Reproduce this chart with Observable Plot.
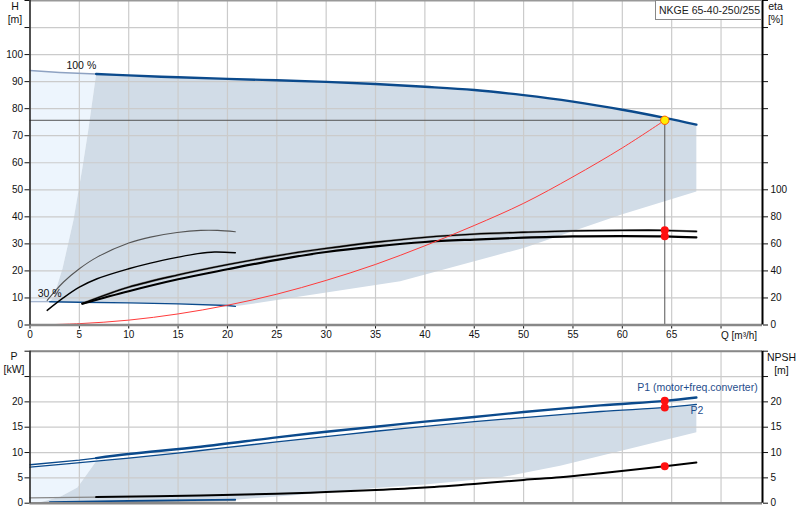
<!DOCTYPE html>
<html><head><meta charset="utf-8">
<script src="https://cdn.jsdelivr.net/npm/d3@7"></script>
<script src="https://cdn.jsdelivr.net/npm/@observablehq/plot@0.6"></script>
<style>
body{margin:0;background:#fff;font-family:"Liberation Sans",Arial,sans-serif;}
#wrap{position:relative;width:800px;height:520px;overflow:hidden;background:#fff;}
#top{position:absolute;left:0;top:0;}
#bot{position:absolute;left:0;top:345px;}
#model{position:absolute;left:655px;top:0px;width:107px;height:20px;border:1px solid #888;background:#fff;font-size:10.5px;line-height:14px;padding:2px 0 0 3px;box-sizing:border-box;color:#222;white-space:nowrap;}
</style></head><body>
<div id="wrap"><div id="top"></div><div id="bot"></div><div id="model">NKGE 65-40-250/255</div></div>
<script>
// ---------- ticks ----------
const qTicks = [0,5,10,15,20,25,30,35,40,45,50,55,60,65,70];
const hTicks = [0,10,20,30,40,50,60,70,80,90,100,110,120];
const pTicks = [0,5,10,15,20,25,30];
const qMax = 74.2;

// ---------- top panel (H) ----------
const Q100 = [0, 3, 6.7, 10, 15, 20, 25, 30, 35, 40, 45, 50, 55, 60, 64.3, 67.5];
const H100 = [94.1, 93.4, 92.8, 92.3, 91.6, 91.0, 90.5, 89.9, 89.1, 88.1, 86.9, 85.0, 82.6, 79.6, 76.6, 74.1];
const Q30 = [0, 2, 5, 10, 15, 20, 20.8];
const H30 = [8.6, 8.6, 8.4, 8.2, 7.8, 7.2, 6.9];
// left edge of shaded range (bottom -> top)
const leftQ = [2.0, 2.4, 3.3, 4.4, 5.3, 5.9, 6.7];
const leftH = [8.6, 10.4, 21, 38.7, 58, 72, 92.8];
// lower edge of shaded range (right -> left)
const lowQ = [67.5, 60, 50, 37.5];
const lowH = [49.4, 41, 28.5, 16.2];
// system curve
const sysQ = [0.5, 5, 10, 15, 20, 25, 30, 35, 40, 45, 50, 55, 60, 64.3];
const sysH = [0, 0.5, 1.8, 4.1, 7.3, 11.4, 16.5, 22.4, 29.3, 36.8, 45.0, 54.8, 65.5, 75.7];
// efficiency curves (eta %)
const eta1Q = [1.74, 3.4, 5, 6.8, 10, 12.2, 14.9, 17.3, 19, 20.8];
const eta1 = [18.2, 31.8, 41.6, 50.2, 60.6, 65.0, 68.4, 70.0, 70.0, 69.0];
const eta2Q = [1.74, 3.4, 5, 6.8, 10, 12.2, 14.9, 17, 18.7, 20.8];
const eta2 = [10.8, 20.2, 28.0, 34.2, 41.6, 45.8, 50.0, 52.8, 54.0, 53.4];
const etaQ = [5.3, 10, 15, 20, 25, 30, 35, 40, 45, 50, 55, 60, 64.3, 67.5];
const etaUp = [15.8, 28.0, 37.0, 44.6, 51.2, 56.6, 61.2, 64.8, 67.2, 68.6, 69.6, 70.0, 70.0, 69.2];
const etaLo = [15.8, 25.0, 33.8, 41.2, 48.2, 54.0, 58.2, 61.4, 63.2, 64.6, 65.6, 65.8, 65.6, 64.8];
const dutyQ = 64.3, dutyH = 75.7;
const dutyEta = [70.0, 65.6];

// ---------- bottom panel (P / NPSH) ----------
const P1Q = [0, 5, 6.7, 10, 17.3, 25, 30, 35, 40, 45, 50, 57.8, 64.3, 67.5];
const P1 = [7.6, 8.5, 8.9, 9.7, 11.15, 13.0, 14.1, 15.1, 16.1, 17.0, 18.0, 19.3, 20.2, 20.85];
const P2Q = [0, 6.7, 10, 17.3, 25, 35, 45, 50, 57.8, 64.3, 67.5];
const P2 = [7.1, 8.3, 8.9, 10.4, 12.1, 14.2, 16.1, 16.9, 18.1, 18.9, 19.5];
const npshQ = [0, 6.7, 17.3, 25, 30, 35, 40, 45, 50, 53.7, 57.8, 64.3, 67.5];
const npsh = [1.06, 1.2, 1.5, 1.85, 2.2, 2.6, 3.1, 3.8, 4.6, 5.1, 5.9, 7.3, 8.05];
const lowPQ = [0, 1.06, 2, 10, 20.8];
const lowP = [0.15, 0.2, 0.25, 0.45, 0.7];
const lowP2 = [0.05, 0.1, 0.15, 0.3, 0.5];
const bLeftQ = [1.06, 3.1, 4.8, 5.8, 6.7];
const bLeftP = [0.2, 1.3, 3.1, 5.8, 8.3];
const bLowQ = [67.5, 60, 53.7, 47.7, 40, 35, 27, 20.8];
const bLowP = [14.0, 10.4, 7.4, 5.1, 3.7, 3.0, 1.6, 0.7];
const dutyP = [20.2, 18.9];
const dutyNPSH = 7.3;

// ---------- helpers ----------
const pts = (qs, vs) => qs.map((q, i) => ({q, v: vs[i]}));
const c100 = pts(Q100, H100), c30 = pts(Q30, H30);
const shadeTop = [
  ...c100.filter(d => d.q >= 6.7),
  ...pts(lowQ, lowH),
  ...c30.filter(d => d.q >= 2).reverse(),
  ...pts(leftQ, leftH)
];
const lightTop = [
  ...c100.filter(d => d.q <= 6.7),
  ...pts(leftQ, leftH).reverse(),
  ...c30.filter(d => d.q <= 2).reverse()
];
const cP1 = pts(P1Q, P1), cP2 = pts(P2Q, P2), cN = pts(npshQ, npsh), cLow = pts(lowPQ, lowP);
const shadeBot = [
  ...cP2.filter(d => d.q >= 6.7),
  ...pts(bLowQ, bLowP),
  ...cLow.filter(d => d.q >= 1.06).reverse(),
  ...pts(bLeftQ, bLeftP)
];
const lightBot = [
  ...cP2.filter(d => d.q <= 6.7),
  ...pts(bLeftQ, bLeftP).reverse(),
  ...cLow.filter(d => d.q <= 1.06).reverse()
];

const font = "Liberation Sans, Arial, sans-serif";
const grid = {stroke: "#cbcbcb", strokeOpacity: 1, strokeWidth: 1.2};
const darkBlue = "#0b4a8c", lightBlue = "#8ea2c2";
const shadeCol = "#d1dce7", lightCol = "#edf5fd";

const topPlot = Plot.plot({
  width: 800, height: 345,
  marginLeft: 29.5, marginRight: 38, marginTop: 0, marginBottom: 20.5,
  x: {domain: [0, qMax]}, y: {domain: [0, 120]},
  style: {fontFamily: font, fontSize: "10px", color: "#111", background: "transparent", overflow: "visible"},
  marks: [
    Plot.line(lightTop, {x: "q", y: "v", fill: lightCol, stroke: "none"}),
    Plot.line(shadeTop, {x: "q", y: "v", fill: shadeCol, stroke: "none"}),
    Plot.gridX(qTicks, grid),
    Plot.gridY(hTicks, grid),
    // 30 % curve
    Plot.line(c30.filter(d => d.q <= 2), {x: "q", y: "v", stroke: lightBlue, strokeWidth: 1.2}),
    Plot.line(c30.filter(d => d.q >= 2), {x: "q", y: "v", stroke: darkBlue, strokeWidth: 1.4}),
    // duty lines
    Plot.ruleY([dutyH], {x1: 0, x2: dutyQ, stroke: "#555", strokeWidth: 1}),
    Plot.ruleX([dutyQ], {y1: 0, y2: dutyH, stroke: "#555", strokeWidth: 1}),
    // efficiency curves
    Plot.line(pts(eta1Q, eta1), {x: "q", y: d => d.v / 2, stroke: "#555", strokeWidth: 1.1, curve: "catmull-rom"}),
    Plot.line(pts(eta2Q, eta2), {x: "q", y: d => d.v / 2, stroke: "#000", strokeWidth: 1.4, curve: "catmull-rom"}),
    Plot.line(pts(etaQ, etaUp), {x: "q", y: d => d.v / 2, stroke: "#888", strokeWidth: 2.4, curve: "catmull-rom"}),
    Plot.line(pts(etaQ, etaUp), {x: "q", y: d => d.v / 2, stroke: "#000", strokeWidth: 1.3, curve: "catmull-rom"}),
    Plot.line(pts(etaQ, etaLo), {x: "q", y: d => d.v / 2, stroke: "#000", strokeWidth: 2.2, curve: "catmull-rom"}),
    // system curve
    Plot.line(pts(sysQ, sysH), {x: "q", y: "v", stroke: "#ff3b3b", strokeWidth: 1, curve: "catmull-rom"}),
    // 100 % curve
    Plot.line(c100.filter(d => d.q <= 6.7), {x: "q", y: "v", stroke: lightBlue, strokeWidth: 1.5}),
    Plot.line(c100.filter(d => d.q >= 6.7), {x: "q", y: "v", stroke: darkBlue, strokeWidth: 2.4, curve: "catmull-rom"}),
    // points
    Plot.dot(dutyEta, {x: () => dutyQ, y: d => d / 2, r: 4, fill: "#ff1010", stroke: "none"}),
    Plot.dot([dutyH], {x: () => dutyQ, y: d => d, r: 4.2, fill: "#ffee00", stroke: "#ff5a00", strokeWidth: 1}),
    // labels
    Plot.text([{q: 5.2, v: 96, t: "100 %"}], {x: "q", y: "v", text: "t", fontSize: 10.5, fill: "#111"}),
    Plot.text([{q: 2.0, v: 11.6, t: "30 %"}], {x: "q", y: "v", text: "t", fontSize: 10.5, fill: "#111"}),
    Plot.text([{q: 70, v: 0, t: "Q [m³/h]"}], {x: "q", y: "v", text: "t", textAnchor: "start", dy: 10.5, fontSize: 10, fill: "#111"}),
    Plot.text(["H\n[m]"], {frameAnchor: "top-left", textAnchor: "middle", lineAnchor: "top", dx: -15, dy: 1, fontSize: 10.5, lineHeight: 1.2, fill: "#111"}),
    Plot.text(["eta\n[%]"], {frameAnchor: "top-right", textAnchor: "middle", lineAnchor: "top", dx: 13, dy: 1, fontSize: 10.5, lineHeight: 1.2, fill: "#111"}),
    // axes
    Plot.axisX(qTicks, {anchor: "bottom", tickSize: 4, tickPadding: 1.5, tickFormat: d => d <= 65 ? String(d) : "", label: null}),
    Plot.axisY(hTicks, {anchor: "left", tickSize: 5, tickPadding: 2, tickFormat: d => d <= 100 ? String(d) : "", label: null}),
    Plot.axisY(hTicks, {anchor: "right", tickSize: 5, tickPadding: 3, tickFormat: d => d <= 50 ? String(d * 2) : "", label: null}),
    // frame
    Plot.ruleY([120], {stroke: "#999", strokeWidth: 2}),
    Plot.ruleY([0], {stroke: "#888", strokeWidth: 2.5}),
    Plot.ruleX([0], {stroke: "#222", strokeWidth: 1.5}),
    Plot.ruleX([qMax], {stroke: "#000", strokeWidth: 2})
  ]
});
document.getElementById("top").append(topPlot);

const botPlot = Plot.plot({
  width: 800, height: 175,
  marginLeft: 29.5, marginRight: 38, marginTop: 5.7, marginBottom: 17.3,
  x: {domain: [0, qMax], axis: null}, y: {domain: [0, 30], axis: null},
  style: {fontFamily: font, fontSize: "10px", color: "#111", background: "transparent", overflow: "visible"},
  marks: [
    Plot.line(lightBot, {x: "q", y: "v", fill: lightCol, stroke: "none"}),
    Plot.line(shadeBot, {x: "q", y: "v", fill: shadeCol, stroke: "none"}),
    Plot.gridX(qTicks, grid),
    Plot.gridY(pTicks, grid),
    // low-speed power lines
    Plot.line(pts(lowPQ, lowP2), {x: "q", y: "v", stroke: "#999", strokeWidth: 1.2}),
    Plot.line(cLow.filter(d => d.q >= 2), {x: "q", y: "v", stroke: darkBlue, strokeWidth: 1.6}),
    // NPSH
    Plot.line(cN.filter(d => d.q <= 6.7), {x: "q", y: "v", stroke: "#888", strokeWidth: 1.2}),
    Plot.line(cN.filter(d => d.q >= 6.7), {x: "q", y: "v", stroke: "#000", strokeWidth: 2, curve: "catmull-rom"}),
    // P2 / P1
    Plot.line(cP2, {x: "q", y: "v", stroke: darkBlue, strokeWidth: 1.3, curve: "catmull-rom"}),
    Plot.line(cP1.filter(d => d.q <= 6.7), {x: "q", y: "v", stroke: darkBlue, strokeWidth: 1.4}),
    Plot.line(cP1.filter(d => d.q >= 6.7), {x: "q", y: "v", stroke: darkBlue, strokeWidth: 2.4, curve: "catmull-rom"}),
    // duty points
    Plot.dot([...dutyP, dutyNPSH], {x: () => dutyQ, y: d => d, r: 4, fill: "#ff1010", stroke: "none"}),
    // labels
    Plot.text([{q: 61.5, v: 22.75, t: "P1 (motor+freq.converter)"}], {x: "q", y: "v", text: "t", textAnchor: "start", fontSize: 10.5, fill: "#1f4e8c"}),
    Plot.text([{q: 66.9, v: 18.2, t: "P2"}], {x: "q", y: "v", text: "t", textAnchor: "start", fontSize: 10.5, fill: "#1f4e8c"}),
    Plot.text(["P\n[kW]"], {frameAnchor: "top-left", textAnchor: "middle", lineAnchor: "top", dx: -16, dy: 0, fontSize: 10.5, lineHeight: 1.2, fill: "#111"}),
    Plot.text(["NPSH\n[m]"], {frameAnchor: "top-right", textAnchor: "middle", lineAnchor: "top", dx: 19, dy: 1, fontSize: 10.5, lineHeight: 1.2, fill: "#111"}),
    // axes
    Plot.axisY(pTicks, {anchor: "left", tickSize: 5, tickPadding: 2, tickFormat: d => d <= 20 ? String(d) : "", label: null}),
    Plot.axisY(pTicks, {anchor: "right", tickSize: 5, tickPadding: 3, tickFormat: d => d <= 20 ? String(d) : "", label: null}),
    // frame
    Plot.ruleY([30], {stroke: "#888", strokeWidth: 2}),
    Plot.ruleY([0], {stroke: "#888", strokeWidth: 2.5}),
    Plot.ruleX([0], {stroke: "#222", strokeWidth: 1.5}),
    Plot.ruleX([qMax], {stroke: "#000", strokeWidth: 2})
  ]
});
document.getElementById("bot").append(botPlot);
</script>
</body></html>
